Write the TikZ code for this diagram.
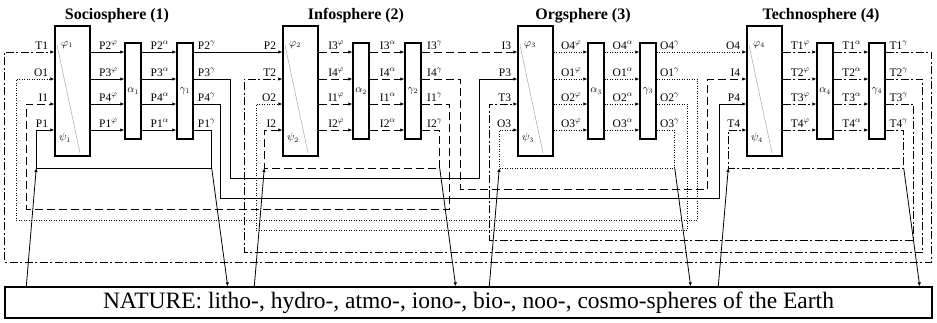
\documentclass[tikz,border=0pt]{standalone}
\usepackage{fontspec}
\setmainfont{Liberation Serif}
\usetikzlibrary{arrows.meta}

\tikzset{
  pline/.style={line width=1pt},
  iline/.style={line width=1pt, dash pattern=on 8pt off 4pt},
  oline/.style={line width=0.9pt, dash pattern=on 0.9pt off 1.6pt},
  tline/.style={line width=1pt, dash pattern=on 8pt off 2.5pt on 2pt off 2.5pt},
  tip/.style={-{Latex[length=4pt,width=3.5pt]}},
  phibox/.style={draw, line width=1.4pt, fill=white, inner sep=0pt, minimum width=35pt, minimum height=130pt},
  abox/.style={draw, line width=1.4pt, fill=white, inner sep=0pt, minimum width=16pt, minimum height=96pt},
  diag/.style={gray!60, line width=0.6pt},
  boxlbl/.style={font=\fontsize{10.5}{11}\selectfont, inner sep=0pt},
  lbl/.style={font=\fontsize{11.5}{12}\selectfont, inner sep=0pt, anchor=base},
  ttl/.style={font=\fontsize{16}{17}\selectfont\bfseries, inner sep=0pt},
}

\begin{document}
\begin{tikzpicture}[x=1pt,y=-1pt]
\useasboundingbox (0,0) rectangle (937,322);
\coordinate (r1) at (0,52);
\coordinate (r2) at (0,79);
\coordinate (r3) at (0,104);
\coordinate (r4) at (0,130);
\coordinate (loop) at (0,168);

\node[ttl] (ttl1) at (117,16) {Sociosphere (1)};
\node[ttl] (ttl2) at (356,16) {Infosphere (2)};
\node[ttl] (ttl3) at (583,16) {Orgsphere (3)};
\node[ttl] (ttl4) at (821,16) {Technosphere (4)};

\node[draw, line width=1.4pt, inner sep=0pt, minimum width=927pt, minimum height=31pt,
      font=\fontsize{23.5}{24}\selectfont] (nature) at (468.5,302.5)
      {NATURE: litho-, hydro-, atmo-, iono-, bio-, noo-, cosmo-spheres of the Earth};

% the four spheres
\foreach \s/\X/\st/\lt/\ia/\ib/\ic/\id/\oa/\ob/\oc/\od in
  {1/55/pline/P/T1/O1/I1/P1/2/3/4/1,
   2/283/iline/I/P2/T2/O2/I2/3/4/1/2,
   3/518/oline/O/I3/P3/T3/O3/4/1/2/3,
   4/747/tline/T/O4/I4/P4/T4/1/2/3/4}{
  \node[phibox] (phi\s) at (\X+17.5,91) {};
  \node[abox] (alpha\s) at (\X+78,91) {};
  \node[abox] (gamma\s) at (\X+130,91) {};
  \draw[diag] (\X+2,45) -- (\X+25,153);
  \node[boxlbl] (tphi\s) at (\X+12,45) {$\varphi_{\s}$};
  \node[boxlbl] (tpsi\s) at (\X+10,138) {$\psi_{\s}$};
  \node[boxlbl] (talpha\s) at (alpha\s) {$\alpha_{\s}$};
  \node[boxlbl] (tgamma\s) at (gamma\s) {$\gamma_{\s}$};
  \foreach \rw/\inp/\ov in {1/\ia/\oa, 2/\ib/\ob, 3/\ic/\oc, 4/\id/\od}{
    \draw[\st,tip] (phi\s.east |- r\rw) -- (alpha\s.west |- r\rw);
    \draw[\st,tip] (alpha\s.east |- r\rw) -- (gamma\s.west |- r\rw);
    \node[lbl, anchor=base east] (in\s\rw) at ([xshift=-6pt,yshift=3pt]phi\s.west |- r\rw) {\inp};
    \node[lbl] (f\s\rw) at ([xshift=17.5pt,yshift=3pt]phi\s.east |- r\rw) {\lt\ov$^{\varphi}$};
    \node[lbl] (a\s\rw) at ([xshift=18pt,yshift=3pt]alpha\s.east |- r\rw) {\lt\ov$^{\alpha}$};
    \node[lbl] (g\s\rw) at ([xshift=13pt,yshift=3pt]gamma\s.east |- r\rw) {\lt\ov$^{\gamma}$};
  }
}

% Sociosphere outputs
\draw[pline,tip] (gamma1.east |- r1) -- (phi2.west |- r1);
\draw[pline,tip] (gamma1.east |- r2) -| ++(37,99) -| ([xshift=-38pt]phi3.west |- r2) -- (phi3.west |- r2);
\draw[pline,tip] (gamma1.east |- r3) -| ++(27,94) -| ([xshift=-27pt]phi4.west |- r3) -- (phi4.west |- r3);
\draw[pline,tip] (gamma1.east |- r4) -| ++(18,38) -| ([xshift=-18pt]phi1.west |- r4) -- (phi1.west |- r4);

% Infosphere outputs
\draw[iline,tip] (gamma2.east |- r1) -- (phi3.west |- r1);
\draw[iline,tip] (gamma2.east |- r2) -| ++(39,110) -| ([xshift=-39pt]phi4.west |- r2) -- (phi4.west |- r2);
\draw[iline,tip] (gamma2.east |- r3) -| ++(28,105) -| ([xshift=-28pt]phi1.west |- r3) -- (phi1.west |- r3);
\draw[iline,tip] (gamma2.east |- r4) -| ++(18,38) -| ([xshift=-18pt]phi2.west |- r4) -- (phi2.west |- r4);

% Orgsphere outputs
\draw[oline,tip] (gamma3.east |- r1) -- (phi4.west |- r1);
\draw[oline,tip] (gamma3.east |- r2) -| ++(41,141) -| ([xshift=-38pt]phi1.west |- r2) -- (phi1.west |- r2);
\draw[oline,tip] (gamma3.east |- r3) -| ++(31,126) -| ([xshift=-26pt]phi2.west |- r3) -- (phi2.west |- r3);
\draw[oline,tip] (gamma3.east |- r4) -| ++(18,38) -| ([xshift=-18pt]phi3.west |- r4) -- (phi3.west |- r4);

% Technosphere outputs
\draw[tline,tip] (gamma4.east |- r1) -| ++(46,210) -| ([xshift=-50pt]phi1.west |- r1) -- (phi1.west |- r1);
\draw[tline,tip] (gamma4.east |- r2) -| ++(37,173) -| ([xshift=-38pt]phi2.west |- r2) -- (phi2.west |- r2);
\draw[tline,tip] (gamma4.east |- r3) -| ++(28,136) -| ([xshift=-28pt]phi3.west |- r3) -- (phi3.west |- r3);
\draw[tline,tip] (gamma4.east |- r4) -| ++(18,38) -| ([xshift=-18pt]phi4.west |- r4) -- (phi4.west |- r4);

% exchange with nature
\foreach \s in {1,...,4}{
  \draw[line width=0.8pt,tip] ([xshift=-28pt]phi\s.west |- nature.north) -- ([xshift=-18pt]phi\s.west |- loop);
  \draw[line width=0.8pt,tip] ([xshift=18pt]gamma\s.east |- loop) -- ([xshift=34pt]gamma\s.east |- nature.north);
}
\end{tikzpicture}
\end{document}
